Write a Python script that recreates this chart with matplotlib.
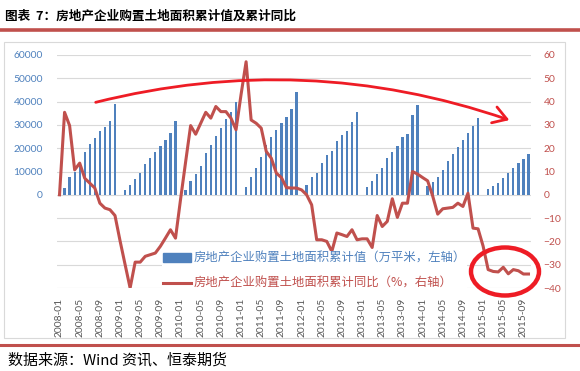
import numpy as np
import pandas as pd
import matplotlib.pyplot as plt
from matplotlib.patches import FancyArrowPatch, Ellipse, Rectangle
from matplotlib.lines import Line2D
from matplotlib.ticker import FuncFormatter

plt.rcParams['font.family'] = ['Noto Sans CJK SC', 'DejaVu Sans']

# ---------------------------------------------
# Land purchase area, monthly 2008-01 .. 2015-10
# ---------------------------------------------
months = pd.date_range('2008-01', '2015-10', freq='MS').strftime('%Y-%m')

# cumulative area (10k sqm), January not reported
area_2008 = [np.nan, 3100, 7800, 10000, 13600, 18500, 21900, 24400, 27400, 29200, 31700, 39000]
area_2009 = [np.nan, 2200, 4400, 6900, 9400, 13300, 15900, 18400, 21000, 23600, 26600, 31700]
area_2010 = [np.nan, 2100, 6000, 9000, 12300, 17900, 21400, 25300, 28800, 32600, 35500, 39800]
area_2011 = [np.nan, 3400, 7700, 11600, 16300, 21400, 24900, 27900, 30900, 33400, 36900, 44200]
area_2012 = [np.nan, 4300, 7700, 9500, 13500, 17200, 18900, 23100, 25700, 27400, 31300, 35600]
area_2013 = [np.nan, 3400, 6100, 8800, 11600, 15600, 18400, 21000, 24900, 26100, 34300, 38600]
area_2014 = [np.nan, 3900, 5600, 7700, 10700, 14600, 17600, 20600, 23600, 26600, 29600, 33100]
area_2015 = [np.nan, 2600, 3900, 5100, 7300, 9400, 11600, 13700, 15400, 17600]

# cumulative yoy (%)
yoy_2008 = [0, 35.4, 29.7, 10.7, 13.6, 7.1, 5.0, 2.9, -3.6, -5.7, -6.4, -8.9]
yoy_2009 = [-19.7, -29.9, -40.0, -28.9, -28.9, -26.4, -25.7, -25.0, -22.1, -18.6, -15.0, -18.6]
yoy_2010 = [-2.0, 14.0, 29.7, 26.0, 30.7, 35.4, 32.9, 37.9, 35.7, 35.7, 32.9, 27.9]
yoy_2011 = [43.0, 57.1, 32.1, 30.7, 28.6, 18.6, 15.7, 9.3, 7.4, 3.1, 2.9, 2.9]
yoy_2012 = [2.1, 0.0, -4.3, -19.3, -19.3, -20.0, -24.3, -16.4, -17.1, -17.9, -15.0, -19.3]
yoy_2013 = [-18.9, -18.9, -22.6, -8.9, -13.6, -11.4, -1.7, -9.7, -3.6, -3.6, 10.0, 8.9]
yoy_2014 = [7.4, 6.0, -0.5, -8.3, -6.0, -5.7, -5.4, -3.6, -5.0, 0.7, -14.3, -14.6]
yoy_2015 = [-22.0, -32.1, -32.9, -33.1, -31.1, -33.9, -32.1, -32.6, -34.0, -34.0]

area = area_2008 + area_2009 + area_2010 + area_2011 + area_2012 + area_2013 + area_2014 + area_2015
yoy = yoy_2008 + yoy_2009 + yoy_2010 + yoy_2011 + yoy_2012 + yoy_2013 + yoy_2014 + yoy_2015

df = pd.DataFrame({'month': months, 'area': area, 'yoy': yoy})

label_area = '房地产企业购置土地面积累计值（万平米，左轴）'
label_yoy = '房地产企业购置土地面积累计同比（%，右轴）'

blue = '#4F81BD'
red = '#C0504D'
mark = '#EE1C25'

# ---------------------------------------------
# Plot
# ---------------------------------------------
W, H = 580, 371
fig = plt.figure(figsize=(W / 100, H / 100), dpi=100)
ax = fig.add_axes([57 / W, 1 - 288 / H, 474 / W, 233 / H])
ax2 = ax.twinx()

x = np.arange(len(df))
ax.bar(x, df['area'], width=0.45, color=blue, zorder=2)
ax2.plot(x, df['yoy'], color=red, lw=2.2, solid_joinstyle='round', zorder=3)

ax.set_xlim(-0.5, len(df) - 0.5)
ax.set_ylim(-40000, 60000)
ax2.set_ylim(-40, 60)

ax.set_yticks(np.arange(-40000, 60001, 10000))
ax.yaxis.set_major_formatter(FuncFormatter(lambda v, p: '%d' % v if v >= 0 else ''))
ax2.set_yticks(np.arange(-40, 61, 10))
ax.set_xticks(x[::4])
ax.set_xticklabels(df['month'][::4], rotation=90)

ax.grid(axis='y', color='#D9D9D9', lw=0.8, zorder=0)
ax.set_axisbelow(True)
for a in (ax, ax2):
    for s in a.spines.values():
        s.set_visible(False)
ax.tick_params(axis='y', length=0, pad=10, labelsize=7.4, labelcolor=blue)
ax.tick_params(axis='x', length=0, pad=7, labelsize=7.4, labelcolor='#595959')
ax2.tick_params(axis='y', length=0, pad=9, labelsize=7.4, labelcolor=red)
for lab in ax.get_xticklabels() + ax.get_yticklabels() + ax2.get_yticklabels():
    lab.set_fontfamily('Lato')

# legend
handles = [Rectangle((0, 0), 1, 1, color=blue), Line2D([], [], color=red, lw=2.2)]
leg = fig.legend(handles, [label_area, label_yoy], loc='center left',
                 bbox_to_anchor=(156 / W, 1 - 271 / H), fontsize=8.9,
                 frameon=True, facecolor='white', edgecolor='none', framealpha=1,
                 borderpad=0.1, handlelength=2.2, handletextpad=0.25, labelspacing=1.0)
leg.get_texts()[0].set_color(blue)
leg.get_texts()[1].set_color(red)

# title, source and frame decorations in pixel coordinates
over = fig.add_axes([0, 0, 1, 1], zorder=6)
over.set_xlim(0, W)
over.set_ylim(H, 0)
over.axis('off')
over.plot([0, W], [30.3, 30.3], color=red, lw=2.6)
over.plot([0, W], [345.3, 345.3], color=red, lw=2.2)
over.add_patch(Rectangle((4, 42), 561, 296, fill=False, ec='#D9D9D9', lw=0.8))
over.text(5, 16, '图表  7：房地产企业购置土地面积累计值及累计同比', fontsize=9.1,
          fontweight='bold', va='center', ha='left')
over.text(8, 360, '数据来源：Wind 资讯、恒泰期货', fontsize=10.8, va='center', ha='left')

# hand-drawn style highlights
over.add_patch(FancyArrowPatch((93, 103), (512, 121), connectionstyle='arc3,rad=-0.15',
                               arrowstyle='->,head_length=0.8,head_width=0.5',
                               mutation_scale=12, color=mark, lw=2.0))
over.add_patch(Ellipse((505, 271.5), 68, 48, fill=False, ec=mark, lw=3.2))

plt.savefig('out.png', dpi=100)
